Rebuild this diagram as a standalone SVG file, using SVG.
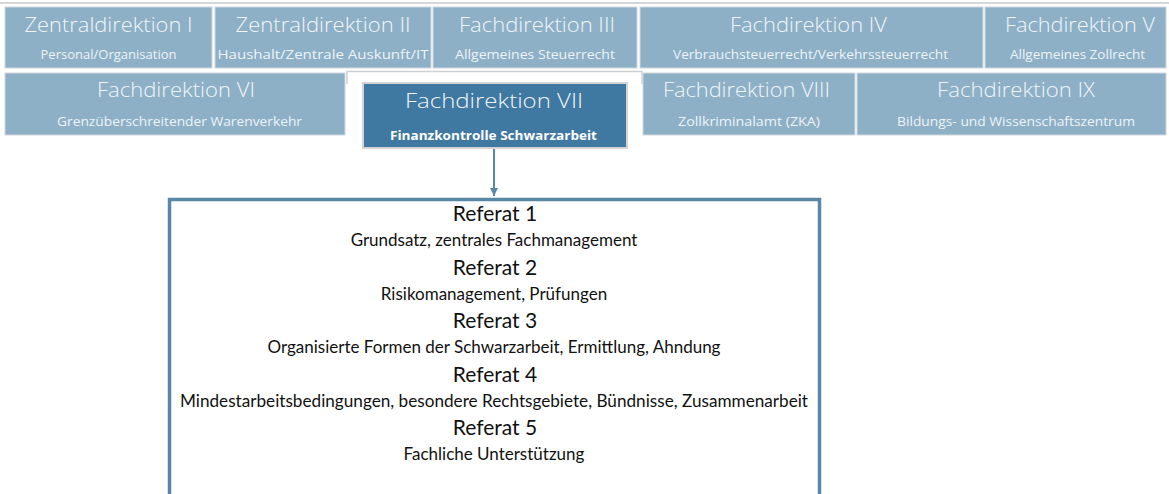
<svg xmlns="http://www.w3.org/2000/svg" width="1169" height="494" viewBox="0 0 1169 494">
<style>
.lb{fill:#8db0c7;stroke:#cfd8de;stroke-width:1}
.db{fill:#3f78a1;stroke:#d4d4d4;stroke-width:2}
.t{font-family:"Open Sans","Liberation Sans",sans-serif;font-size:21px;font-weight:300;fill:#f1f5f8;text-anchor:middle}
.s{font-family:"Open Sans","Liberation Sans",sans-serif;font-size:12.5px;fill:#eef3f6;text-anchor:middle}
.sb{font-family:"Open Sans","Liberation Sans",sans-serif;font-size:12.5px;font-weight:bold;fill:#ffffff;text-anchor:middle}
.rh{font-family:Lato,"Liberation Sans",sans-serif;font-size:21px;fill:#111;text-anchor:middle}
.rd{font-family:Lato,"Liberation Sans",sans-serif;font-size:17px;fill:#111;text-anchor:middle}
.conn{stroke:#5b87a6;stroke-width:2;fill:none}
</style>
<defs>
<marker id="ah" viewBox="0 0 10 10" refX="10" refY="5" markerWidth="4" markerHeight="4" orient="auto" markerUnits="strokeWidth">
<path d="M0,0 L10,5 L0,10 z" fill="#5b87a6"/>
</marker>
</defs>
<rect width="1169" height="494" fill="#ffffff"/>
<line x1="0" y1="3" x2="1169" y2="3" stroke="#d6d6d6" stroke-width="2"/>
<path d="M347,84 V71.5 H642 V84" fill="none" stroke="#cfcfcf" stroke-width="1.5"/>

<g id="zd1"><rect class="lb" x="5" y="7" width="207" height="61"/>
<text class="t" x="108.5" y="31.5" textLength="168" lengthAdjust="spacingAndGlyphs">Zentraldirektion I</text>
<text class="s" x="108.5" y="59" textLength="136" lengthAdjust="spacingAndGlyphs">Personal/Organisation</text></g>

<g id="zd2"><rect class="lb" x="215" y="7" width="216" height="61"/>
<text class="t" x="323" y="31.5" textLength="175" lengthAdjust="spacingAndGlyphs">Zentraldirektion II</text>
<text class="s" x="323" y="59" textLength="211" lengthAdjust="spacingAndGlyphs">Haushalt/Zentrale Auskunft/IT</text></g>

<g id="fd3"><rect class="lb" x="433" y="7" width="204" height="61"/>
<text class="t" x="537" y="31.5" textLength="156" lengthAdjust="spacingAndGlyphs">Fachdirektion III</text>
<text class="s" x="535" y="59" textLength="160" lengthAdjust="spacingAndGlyphs">Allgemeines Steuerrecht</text></g>

<g id="fd4"><rect class="lb" x="640" y="7" width="343" height="61"/>
<text class="t" x="808.5" y="31.5" textLength="157" lengthAdjust="spacingAndGlyphs">Fachdirektion IV</text>
<text class="s" x="810.5" y="59" textLength="275" lengthAdjust="spacingAndGlyphs">Verbrauchsteuerrecht/Verkehrssteuerrecht</text></g>

<g id="fd5"><rect class="lb" x="985" y="7" width="181" height="61"/>
<text class="t" x="1080" y="31.5" textLength="150" lengthAdjust="spacingAndGlyphs">Fachdirektion V</text>
<text class="s" x="1077.5" y="59" textLength="135" lengthAdjust="spacingAndGlyphs">Allgemeines Zollrecht</text></g>

<g id="fd6"><rect class="lb" x="5" y="73" width="340" height="62"/>
<text class="t" x="176" y="97" textLength="158" lengthAdjust="spacingAndGlyphs">Fachdirektion VI</text>
<text class="s" x="179.5" y="126" textLength="245" lengthAdjust="spacingAndGlyphs">Grenzüberschreitender Warenverkehr</text></g>

<g id="fd7"><rect class="db" x="363" y="83" width="264" height="65"/>
<text class="t" x="494" y="108" fill="#ffffff" textLength="178" lengthAdjust="spacingAndGlyphs">Fachdirektion VII</text>
<text class="sb" x="493.5" y="140" textLength="207" lengthAdjust="spacingAndGlyphs">Finanzkontrolle Schwarzarbeit</text></g>

<g id="fd8"><rect class="lb" x="643" y="73" width="212" height="62"/>
<text class="t" x="746.5" y="97" textLength="167" lengthAdjust="spacingAndGlyphs">Fachdirektion VIII</text>
<text class="s" x="749" y="126" textLength="142" lengthAdjust="spacingAndGlyphs">Zollkriminalamt (ZKA)</text></g>

<g id="fd9"><rect class="lb" x="857" y="73" width="309" height="62"/>
<text class="t" x="1016" y="97" textLength="158" lengthAdjust="spacingAndGlyphs">Fachdirektion IX</text>
<text class="s" x="1016" y="126" textLength="238" lengthAdjust="spacingAndGlyphs">Bildungs- und Wissenschaftszentrum</text></g>

<g id="connectors">
<line class="conn" x1="494" y1="149" x2="494" y2="196" marker-end="url(#ah)"/>
</g>

<g id="referate">
<rect x="169.5" y="199.5" width="650" height="320" fill="#ffffff" stroke="#5b87a6" stroke-width="3.5"/>
<text class="rh" x="495" y="221">Referat 1</text>
<text class="rd" x="494" y="246">Grundsatz, zentrales Fachmanagement</text>
<text class="rh" x="495" y="274.5">Referat 2</text>
<text class="rd" x="494" y="299.5">Risikomanagement, Prüfungen</text>
<text class="rh" x="495" y="328">Referat 3</text>
<text class="rd" x="494" y="353">Organisierte Formen der Schwarzarbeit, Ermittlung, Ahndung</text>
<text class="rh" x="495" y="381.5">Referat 4</text>
<text class="rd" x="494" y="406.5" textLength="628" lengthAdjust="spacingAndGlyphs">Mindestarbeitsbedingungen, besondere Rechtsgebiete, Bündnisse, Zusammenarbeit</text>
<text class="rh" x="495" y="435">Referat 5</text>
<text class="rd" x="494" y="460">Fachliche Unterstützung</text>
</g>
</svg>
